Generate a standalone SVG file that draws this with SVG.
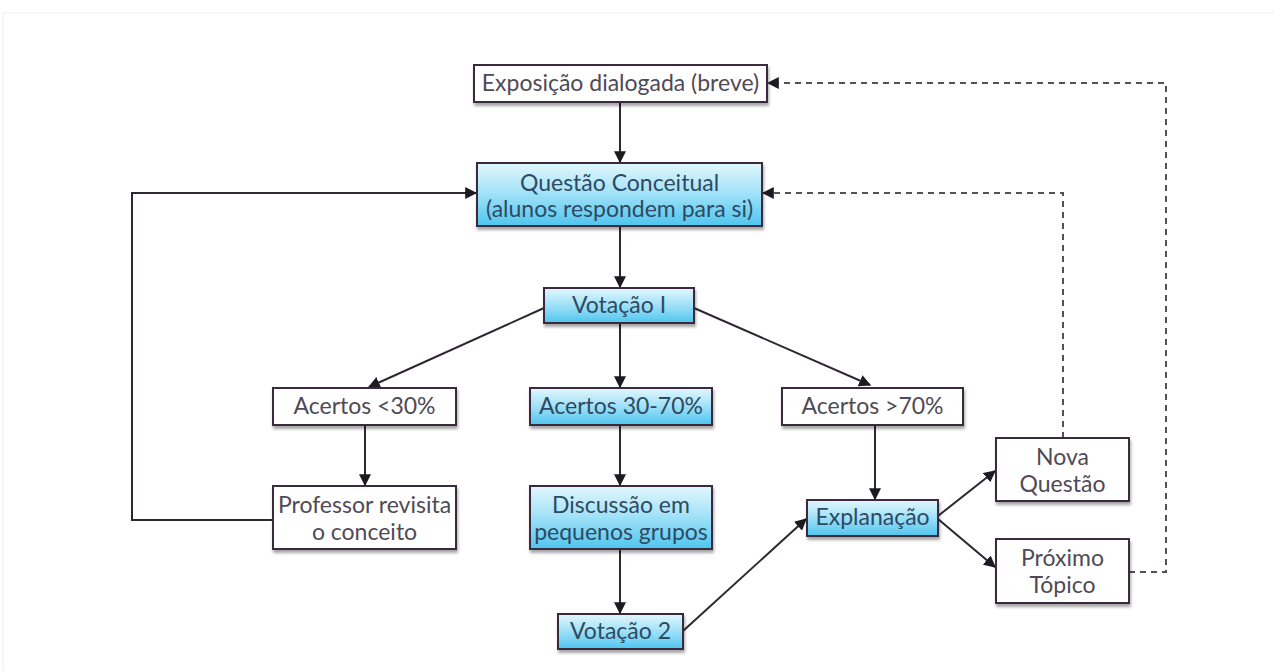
<svg xmlns="http://www.w3.org/2000/svg" width="1274" height="671" viewBox="0 0 1274 671">
<defs>
<linearGradient id="blue" x1="0" y1="0" x2="0" y2="1">
<stop offset="0" stop-color="#e2f7fd"/>
<stop offset="0.45" stop-color="#a6e3f8"/>
<stop offset="1" stop-color="#4fc5ef"/>
</linearGradient>
<filter id="sh" x="-10%" y="-20%" width="120%" height="150%">
<feDropShadow dx="1" dy="3" stdDeviation="1.5" flood-color="#000" flood-opacity="0.35"/>
</filter>
<marker id="ah" viewBox="0 0 10 10" refX="9" refY="5" markerWidth="12" markerHeight="12" markerUnits="userSpaceOnUse" orient="auto">
<path d="M0,0 L10,5 L0,10 z" fill="#1e1a22"/>
</marker>
</defs>
<style>
.w{fill:#ffffff;stroke:#3b2c3c;stroke-width:2;filter:url(#sh)}
.b{fill:url(#blue);stroke:#3b2c3c;stroke-width:2;filter:url(#sh)}
.t{font-family:Lato,"Open Sans",sans-serif;font-size:23px;fill:#4f4a55;text-anchor:middle}
.tb{font-family:Lato,"Open Sans",sans-serif;font-size:23px;fill:#2e4a62;text-anchor:middle}
.c{fill:none;stroke:#2e2630;stroke-width:2}
.d{fill:none;stroke:#555058;stroke-width:2;stroke-dasharray:6,5}
</style>
<rect x="0" y="0" width="1274" height="671" fill="#ffffff"/>
<rect x="3" y="13" width="1274" height="670" fill="none" stroke="#f0f0f0" stroke-width="1"/>
<g id="connectors">
<line class="c" x1="620" y1="102" x2="620" y2="162" marker-end="url(#ah)"/>
<line class="c" x1="620" y1="226" x2="620" y2="287" marker-end="url(#ah)"/>
<line class="c" x1="544" y1="308" x2="369" y2="387" marker-end="url(#ah)"/>
<line class="c" x1="620" y1="323" x2="620" y2="387" marker-end="url(#ah)"/>
<line class="c" x1="694" y1="308" x2="870" y2="385" marker-end="url(#ah)"/>
<line class="c" x1="365" y1="425" x2="365" y2="485" marker-end="url(#ah)"/>
<line class="c" x1="620" y1="425" x2="620" y2="485" marker-end="url(#ah)"/>
<line class="c" x1="620" y1="549" x2="620" y2="613" marker-end="url(#ah)"/>
<line class="c" x1="683" y1="631" x2="806" y2="519" marker-end="url(#ah)"/>
<line class="c" x1="875" y1="425" x2="875" y2="499" marker-end="url(#ah)"/>
<line class="c" x1="938" y1="516" x2="995" y2="471" marker-end="url(#ah)"/>
<line class="c" x1="938" y1="519" x2="995" y2="567" marker-end="url(#ah)"/>
<polyline class="c" points="273,520 132,520 132,193 476,193" marker-end="url(#ah)"/>
<polyline class="d" points="1063,438 1063,193 763,193" marker-end="url(#ah)"/>
<polyline class="d" points="1129,572 1166,572 1166,83 768,83" marker-end="url(#ah)"/>
</g>
<g id="exposicao"><rect class="w" x="474" y="65" width="293" height="37"/><text class="t" x="620.5" y="91">Exposição dialogada (breve)</text></g>
<g id="questao"><rect class="b" x="477" y="163" width="285" height="63"/><text class="tb" x="619.5" y="191">Questão Conceitual</text><text class="tb" x="619.5" y="217">(alunos respondem para si)</text></g>
<g id="votacao1"><rect class="b" x="544" y="288" width="150" height="35"/><text class="tb" x="619" y="313">Votação I</text></g>
<g id="acertos30"><rect class="w" x="273" y="388" width="183" height="37"/><text class="t" x="364.5" y="414">Acertos &lt;30%</text></g>
<g id="acertos3070"><rect class="b" x="530" y="388" width="182" height="37"/><text class="tb" x="621" y="414">Acertos 30-70%</text></g>
<g id="acertos70"><rect class="w" x="782" y="388" width="181" height="37"/><text class="t" x="872.5" y="414">Acertos &gt;70%</text></g>
<g id="professor"><rect class="w" x="273" y="486" width="183" height="63"/><text class="t" x="364.5" y="513">Professor revisita</text><text class="t" x="364.5" y="540">o conceito</text></g>
<g id="discussao"><rect class="b" x="530" y="486" width="182" height="63"/><text class="tb" x="621" y="513">Discussão em</text><text class="tb" x="621" y="540">pequenos grupos</text></g>
<g id="votacao2"><rect class="b" x="558" y="614" width="125" height="35"/><text class="tb" x="620.5" y="639">Votação 2</text></g>
<g id="explanacao"><rect class="b" x="807" y="500" width="131" height="36"/><text class="tb" x="872.5" y="525">Explanação</text></g>
<g id="novaquestao"><rect class="w" x="996" y="438" width="133" height="63"/><text class="t" x="1062.5" y="465">Nova</text><text class="t" x="1062.5" y="492">Questão</text></g>
<g id="proximo"><rect class="w" x="996" y="539" width="133" height="64"/><text class="t" x="1062.5" y="566">Próximo</text><text class="t" x="1062.5" y="593">Tópico</text></g>
</svg>
